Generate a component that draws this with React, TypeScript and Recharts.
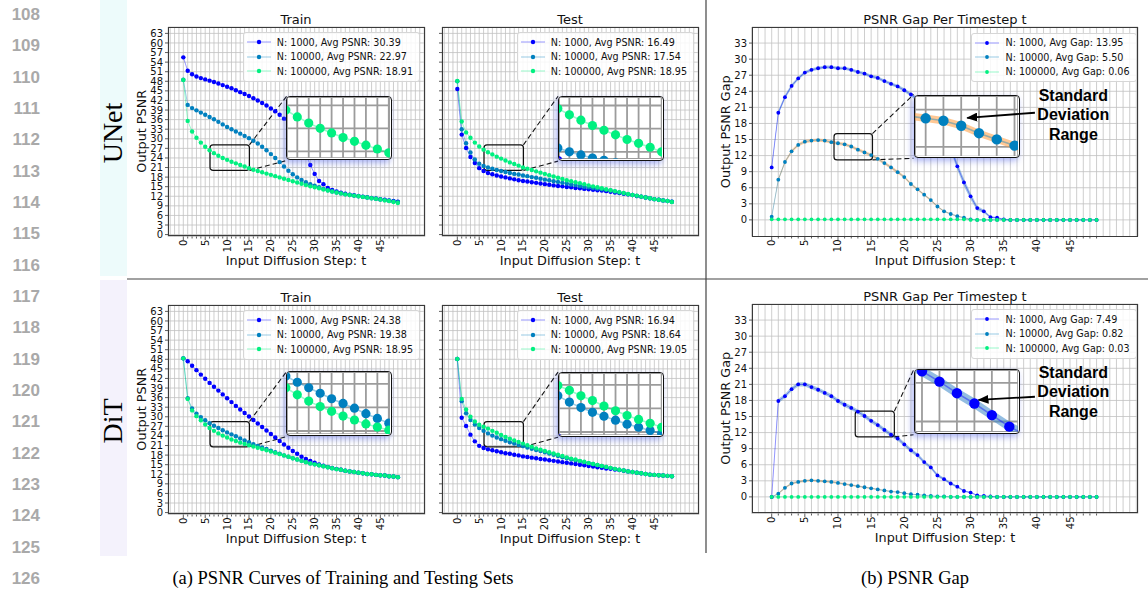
import React from "react";
import {
  Area,
  CartesianGrid,
  ComposedChart,
  Line,
  ReferenceArea,
  ReferenceLine,
  XAxis,
  YAxis,
} from "recharts";

const FONT = "'DejaVu Sans', sans-serif";
const SERIF = "'Liberation Serif', 'Times New Roman', serif";
const BOLD_SANS = "'Liberation Sans', Arial, sans-serif";

const BLUE = "#0000ff";
const MID = "#0080bf";
const GREEN = "#00f080";
const BAND_BLUE = "#3a86c8";
const BAND_ORANGE = "#ff9a3c";

// ---------- axes / ticks ----------
const steps = [
  0, 1, 2, 3, 4, 5, 6, 7, 8, 9, 10, 11, 12, 13, 14, 15, 16, 17, 18, 19, 20, 21, 22, 23, 24,
  25, 26, 27, 28, 29, 30, 31, 32, 33, 34, 35, 36, 37, 38, 39, 40, 41, 42, 43, 44, 45, 46, 47, 48, 49,
];
const gridSteps = [
  -3, -2, -1, 0, 1, 2, 3, 4, 5, 6, 7, 8, 9, 10, 11, 12, 13, 14, 15, 16, 17, 18, 19, 20, 21, 22,
  23, 24, 25, 26, 27, 28, 29, 30, 31, 32, 33, 34, 35, 36, 37, 38, 39, 40, 41, 42, 43, 44, 45, 46,
  47, 48, 49, 50, 51, 52, 53, 54, 55,
];
const stepLabels = [0, 5, 10, 15, 20, 25, 30, 35, 40, 45];
const psnrTicks = [0, 3, 6, 9, 12, 15, 18, 21, 24, 27, 30, 33, 36, 39, 42, 45, 48, 51, 54, 57, 60, 63];
const gapTicks = [0, 3, 6, 9, 12, 15, 18, 21, 24, 27, 30, 33];
const sampleSizes = ["N: 1000", "N: 10000", "N: 100000"];
const lineNumbers = [108, 109, 110, 111, 112, 113, 114, 115, 116, 117, 118, 119, 120, 121, 122, 123, 124, 125, 126];
const annotationLines = ["Standard", "Deviation", "Range"];

// ---------- UNet ----------
const unetTrainAvg = [30.39, 22.97, 18.91];
const unetTrain1k = [
  55.5, 51.3, 50.2, 49.5, 49.0, 48.6, 48.2, 47.8, 47.3, 46.8, 46.3, 45.8, 45.2, 44.6, 44.0, 43.4, 42.7,
  42.0, 41.2, 40.4, 39.5, 38.6, 37.5, 36.3, 34.8, 33.0, 30.8, 28.2, 25.0, 21.8, 19.0, 16.8, 15.8, 14.6,
  14.0, 13.5, 13.1, 12.8, 12.5, 12.3, 12.1, 11.9, 11.7, 11.5, 11.3, 11.1, 10.9, 10.7, 10.5, 10.3,
];
const unetTrain10k = [
  48.5, 40.6, 39.6, 38.9, 38.2, 37.5, 36.8, 36.1, 35.3, 34.5, 33.7, 33.0, 32.3, 31.6, 30.9, 30.2, 29.4,
  28.5, 27.5, 26.4, 25.2, 24.0, 22.7, 21.3, 20.0, 18.9, 17.9, 17.1, 16.4, 15.8, 15.3, 14.8, 14.3, 13.9,
  13.5, 13.2, 12.9, 12.6, 12.4, 12.2, 12.0, 11.8, 11.6, 11.4, 11.2, 11.0, 10.8, 10.6, 10.4, 10.2,
];
const unetTrain100k = [
  48.4, 35.6, 32.3, 30.3, 28.8, 27.5, 26.4, 25.5, 24.7, 24.0, 23.4, 22.8, 22.3, 21.8, 21.3, 20.8, 20.3,
  19.9, 19.5, 19.1, 18.7, 18.3, 17.9, 17.5, 17.1, 16.7, 16.3, 15.9, 15.5, 15.1, 14.8, 14.5, 14.1, 13.8,
  13.5, 13.2, 12.9, 12.6, 12.4, 12.2, 12.0, 11.8, 11.6, 11.4, 11.2, 11.0, 10.7, 10.5, 10.2, 9.9,
];

const unetTestAvg = [16.49, 17.54, 18.95];
const unetTest1k = [
  45.6, 31.3, 27.1, 24.3, 22.4, 20.8, 19.9, 19.3, 18.9, 18.5, 18.2, 17.9, 17.6, 17.3, 17.0, 16.8, 16.6,
  16.4, 16.2, 16.0, 15.8, 15.6, 15.4, 15.2, 15.1, 14.9, 14.8, 14.6, 14.5, 14.3, 14.2, 14.0, 13.9, 13.8,
  13.6, 13.4, 13.2, 13.0, 12.8, 12.6, 12.4, 12.1, 11.9, 11.6, 11.4, 11.1, 10.9, 10.7, 10.5, 10.3,
];
const unetTest10k = [
  48.0, 33.0, 28.6, 25.7, 23.5, 22.2, 21.5, 21.0, 20.6, 20.2, 19.9, 19.6, 19.3, 19.0, 18.8, 18.5, 18.3,
  18.0, 17.8, 17.5, 17.2, 17.0, 16.7, 16.5, 16.2, 16.0, 15.7, 15.5, 15.2, 15.0, 14.8, 14.6, 14.4, 14.2,
  14.0, 13.8, 13.5, 13.2, 12.9, 12.6, 12.4, 12.1, 11.9, 11.6, 11.4, 11.1, 10.9, 10.7, 10.5, 10.3,
];
const unetTest100k = [
  48.1, 35.4, 32.0, 30.3, 28.8, 27.6, 26.6, 25.8, 25.1, 24.4, 23.8, 23.2, 22.6, 22.1, 21.6, 21.0, 20.6,
  20.2, 19.8, 19.4, 19.0, 18.6, 18.2, 17.8, 17.4, 17.0, 16.7, 16.4, 16.1, 15.8, 15.4, 15.1, 14.8, 14.5,
  14.2, 13.9, 13.6, 13.3, 13.0, 12.7, 12.4, 12.2, 11.9, 11.6, 11.4, 11.1, 10.9, 10.7, 10.5, 10.2,
];

const unetGapAvg = [13.95, 5.5, 0.06];
const unetGap1k = [
  9.8, 20.0, 22.9, 25.0, 26.4, 27.5, 28.0, 28.3, 28.5, 28.5, 28.3, 28.3, 28.0, 27.6, 27.3, 26.8, 26.5,
  25.9, 25.4, 24.9, 24.2, 23.4, 22.5, 21.5, 20.2, 18.5, 16.3, 13.5, 10.0, 7.0, 4.4, 2.2, 1.6, 0.5, 0.4,
  0.1, 0, 0, 0, 0, 0, 0, 0, 0, 0, 0, 0, 0, 0, 0,
];
const unetGap1kStd = [
  0.3, 0.4, 0.4, 0.35, 0.3, 0.3, 0.3, 0.3, 0.3, 0.3, 0.3, 0.3, 0.3, 0.3, 0.3, 0.3, 0.3, 0.3, 0.3, 0.3,
  0.35, 0.35, 0.4, 0.4, 0.45, 0.5, 0.55, 0.6, 0.65, 0.7, 0.6, 0.45, 0.3, 0.2, 0.15, 0.1, 0, 0, 0, 0,
  0, 0, 0, 0, 0, 0, 0, 0, 0, 0,
];
const unetGap10k = [
  0.6, 7.5, 10.8, 12.8, 14.0, 14.6, 14.8, 14.9, 14.8, 14.5, 14.3, 14.1, 13.7, 13.1, 12.6, 12.1, 11.4,
  10.6, 9.8, 8.9, 8.0, 6.7, 5.7, 4.7, 3.7, 2.5, 1.6, 1.1, 0.7, 0.4, 0.1, 0, 0, 0, 0, 0, 0, 0, 0, 0, 0,
  0, 0, 0, 0, 0, 0, 0, 0, 0,
];
const unetGap10kStd = [
  0.1, 0.3, 0.3, 0.3, 0.3, 0.3, 0.3, 0.3, 0.3, 0.3, 0.3, 0.3, 0.3, 0.3, 0.3, 0.3, 0.3, 0.3, 0.3, 0.3,
  0.25, 0.25, 0.2, 0.2, 0.2, 0.15, 0.15, 0.1, 0.1, 0.1, 0.05, 0, 0, 0, 0, 0, 0, 0, 0, 0, 0, 0, 0, 0,
  0, 0, 0, 0, 0, 0,
];
const unetGap100k = [
  0.1, 0.1, 0.1, 0.1, 0.1, 0.1, 0.1, 0.1, 0.1, 0.1, 0.1, 0.1, 0.1, 0.1, 0.1, 0.1, 0.1, 0.1, 0.1, 0.1,
  0.1, 0.1, 0.1, 0.1, 0.1, 0.1, 0.1, 0.1, 0.1, 0.1, 0, 0, 0, 0, 0, 0, 0, 0, 0, 0, 0, 0, 0, 0, 0, 0,
  0, 0, 0, 0,
];

// ---------- DiT ----------
const ditTrainAvg = [24.38, 19.38, 18.95];
const ditTrain1k = [
  48.3, 47.4, 46.0, 44.6, 43.2, 41.9, 40.6, 39.4, 38.2, 37.0, 35.8, 34.6, 33.4, 32.3, 31.2, 30.1, 29.0,
  27.9, 26.8, 25.7, 24.6, 23.5, 22.4, 21.3, 20.3, 19.3, 18.4, 17.5, 16.8, 16.2, 15.6, 15.1, 14.7, 14.3,
  14.0, 13.7, 13.4, 13.1, 12.9, 12.7, 12.5, 12.3, 12.1, 12.0, 11.8, 11.7, 11.6, 11.4, 11.3, 11.1,
];
const ditTrain10k = [
  48.3, 35.8, 32.6, 31.0, 29.9, 28.9, 28.0, 27.2, 26.5, 25.8, 25.1, 24.5, 23.9, 23.2, 22.6, 22.0, 21.4,
  20.9, 20.4, 19.9, 19.4, 18.9, 18.4, 17.9, 17.5, 17.0, 16.6, 16.2, 15.8, 15.4, 15.1, 14.8, 14.5, 14.2,
  13.9, 13.6, 13.4, 13.1, 12.9, 12.7, 12.5, 12.3, 12.1, 12.0, 11.8, 11.7, 11.6, 11.4, 11.3, 11.1,
];
const ditTrain100k = [
  48.3, 35.6, 32.0, 30.2, 28.9, 27.6, 26.5, 25.6, 24.8, 24.1, 23.5, 22.9, 22.4, 21.9, 21.5, 21.1, 20.7,
  20.3, 19.9, 19.5, 19.1, 18.7, 18.3, 17.9, 17.5, 17.0, 16.6, 16.2, 15.8, 15.4, 15.1, 14.8, 14.5, 14.2,
  13.9, 13.6, 13.4, 13.1, 12.9, 12.7, 12.5, 12.3, 12.1, 12.0, 11.8, 11.7, 11.6, 11.4, 11.3, 11.1,
];

const ditTestAvg = [16.94, 18.64, 19.05];
const ditTest1k = [
  48.1, 29.7, 27.1, 24.4, 22.3, 20.9, 20.2, 19.8, 19.5, 19.2, 18.9, 18.6, 18.4, 18.1, 17.9, 17.6, 17.4,
  17.2, 17.0, 16.8, 16.6, 16.4, 16.2, 16.0, 15.8, 15.6, 15.4, 15.2, 15.0, 14.8, 14.6, 14.4, 14.2, 14.0,
  13.8, 13.7, 13.5, 13.3, 13.1, 12.9, 12.7, 12.5, 12.3, 12.1, 11.9, 11.8, 11.7, 11.6, 11.5, 11.4,
];
const ditTest10k = [
  48.1, 34.9, 31.1, 29.0, 27.6, 26.5, 25.6, 24.8, 24.1, 23.5, 23.0, 22.5, 22.0, 21.6, 21.2, 20.8, 20.4,
  20.0, 19.6, 19.3, 18.9, 18.5, 18.1, 17.7, 17.3, 17.0, 16.7, 16.4, 16.1, 15.8, 15.5, 15.2, 14.9, 14.6,
  14.3, 14.0, 13.7, 13.4, 13.2, 12.9, 12.7, 12.5, 12.3, 12.1, 11.9, 11.8, 11.7, 11.6, 11.5, 11.4,
];
const ditTest100k = [
  48.1, 35.6, 32.3, 30.0, 28.5, 27.5, 26.9, 26.3, 25.6, 25.0, 24.3, 23.7, 23.1, 22.6, 22.1, 21.6, 21.1,
  20.6, 20.1, 19.7, 19.3, 18.9, 18.5, 18.1, 17.7, 17.3, 16.9, 16.6, 16.2, 15.9, 15.5, 15.2, 14.9, 14.6,
  14.3, 14.0, 13.7, 13.4, 13.2, 12.9, 12.7, 12.5, 12.3, 12.1, 11.9, 11.8, 11.7, 11.6, 11.5, 11.4,
];

const ditGapAvg = [7.49, 0.82, 0.03];
const ditGap1k = [
  0, 17.9, 18.8, 20.1, 21.0, 21.0, 20.5, 20.0, 19.4, 18.8, 17.9, 17.2, 16.6, 15.9, 15.1, 14.2, 13.4,
  12.5, 11.6, 10.9, 9.8, 8.7, 7.8, 6.5, 5.5, 4.0, 3.3, 2.5, 1.9, 1.1, 0.8, 0.3, 0.2, 0.1, 0, 0, 0, 0,
  0, 0, 0, 0, 0, 0, 0, 0, 0, 0, 0, 0,
];
const ditGap1kStd = [
  0, 0.4, 0.4, 0.4, 0.4, 0.4, 0.4, 0.4, 0.4, 0.4, 0.4, 0.4, 0.4, 0.4, 0.4, 0.4, 0.4, 0.4, 0.4, 0.4,
  0.4, 0.4, 0.35, 0.35, 0.3, 0.3, 0.25, 0.25, 0.2, 0.15, 0.1, 0.05, 0, 0, 0, 0, 0, 0, 0, 0, 0, 0, 0,
  0, 0, 0, 0, 0, 0, 0,
];
const ditGap10k = [
  0, 0.6, 1.7, 2.5, 2.8, 3.0, 3.1, 3.0, 2.9, 2.8, 2.6, 2.4, 2.2, 2.0, 1.8, 1.6, 1.4, 1.2, 1.0, 0.9,
  0.7, 0.5, 0.4, 0.3, 0.2, 0.1, 0.1, 0, 0, 0, 0, 0, 0, 0, 0, 0, 0, 0, 0, 0, 0, 0, 0, 0, 0, 0, 0, 0,
  0, 0,
];
const ditGap10kStd = [
  0, 0.15, 0.2, 0.2, 0.2, 0.2, 0.2, 0.2, 0.2, 0.2, 0.2, 0.2, 0.15, 0.15, 0.15, 0.15, 0.1, 0.1, 0.1,
  0.1, 0.1, 0.05, 0.05, 0.05, 0, 0, 0, 0, 0, 0, 0, 0, 0, 0, 0, 0, 0, 0, 0, 0, 0, 0, 0, 0, 0, 0, 0, 0,
  0, 0,
];
const ditGap100k = [
  0, 0, 0, 0, 0, 0, 0, 0, 0, 0, 0, 0, 0, 0, 0, 0, 0, 0, 0, 0, 0, 0, 0, 0, 0, 0, 0, 0, 0, 0, 0, 0, 0,
  0, 0, 0, 0, 0, 0, 0, 0, 0, 0, 0, 0, 0, 0, 0, 0, 0,
];

// ---------- layout ----------
type Frame = { left: number; top: number; width: number; height: number; x: [number, number]; y: [number, number] };
type Box = { x1: number; x2: number; y1: number; y2: number };

const psnrX: [number, number] = [-3.5, 55.2];
const psnrY: [number, number] = [-0.6, 65];
const gapX: [number, number] = [-2.97, 55.25];
const gapY: [number, number] = [-3.1, 36];

const frames: Record<string, Frame> = {
  unetTrain: { left: 167.5, top: 26.5, width: 257, height: 209.5, x: psnrX, y: psnrY },
  unetTest: { left: 441.5, top: 26.5, width: 257, height: 209.5, x: psnrX, y: psnrY },
  unetGap: { left: 752, top: 27, width: 386, height: 209.5, x: gapX, y: gapY },
  ditTrain: { left: 167.5, top: 304.5, width: 257, height: 209.5, x: psnrX, y: psnrY },
  ditTest: { left: 441.5, top: 304.5, width: 257, height: 209.5, x: psnrX, y: psnrY },
  ditGap: { left: 752, top: 303.5, width: 386, height: 209.5, x: gapX, y: gapY },
};

const toPx = (f: Frame, t: number, v: number) => ({
  x: f.left + ((t - f.x[0]) / (f.x[1] - f.x[0])) * f.width,
  y: f.top + ((f.y[1] - v) / (f.y[1] - f.y[0])) * f.height,
});

const AXIS_W = 36;
const AXIS_H = 24;
const PAD = 4;

type Series = { key: string; color: string; values: number[]; std?: number[]; band?: string };

type PanelDef = {
  id: string;
  frame: Frame;
  title: string;
  yLabel?: string;
  yTicks: number[];
  yTickLabels: boolean;
  series: Series[];
  legend: string[];
  rect: Box;
  box: Box;
  dotR: number;
  insetDotR: number;
  note?: { from: [number, number]; to: [number, number]; at: [number, number[]] };
};

const psnrSeries = (a: number[], b: number[], c: number[]): Series[] => [
  { key: "n1k", color: BLUE, values: a },
  { key: "n10k", color: MID, values: b },
  { key: "n100k", color: GREEN, values: c },
];

const legendLabels = (avgs: number[], kind: string) =>
  sampleSizes.map((n, i) => `${n}, Avg ${kind}: ${avgs[i].toFixed(2)}`);

const panels: PanelDef[] = [
  {
    id: "unetTrain",
    frame: frames.unetTrain,
    title: "Train",
    yLabel: "Output PSNR",
    yTicks: psnrTicks,
    yTickLabels: true,
    series: psnrSeries(unetTrain1k, unetTrain10k, unetTrain100k),
    legend: legendLabels(unetTrainAvg, "PSNR"),
    rect: { x1: 6.1, x2: 15.1, y1: 20.1, y2: 28.1 },
    box: { x1: 23.6, x2: 47.8, y1: 23.2, y2: 43.3 },
    dotR: 2.2,
    insetDotR: 4.6,
  },
  {
    id: "unetTest",
    frame: frames.unetTest,
    title: "Test",
    yTicks: psnrTicks,
    yTickLabels: false,
    series: psnrSeries(unetTest1k, unetTest10k, unetTest100k),
    legend: legendLabels(unetTestAvg, "PSNR"),
    rect: { x1: 6.1, x2: 15.1, y1: 20.1, y2: 28.1 },
    box: { x1: 23.0, x2: 47.4, y1: 23.0, y2: 43.3 },
    dotR: 2.2,
    insetDotR: 4.6,
  },
  {
    id: "unetGap",
    frame: frames.unetGap,
    title: "PSNR Gap Per Timestep t",
    yLabel: "Output PSNR Gap",
    yTicks: gapTicks,
    yTickLabels: true,
    series: [
      { key: "n1k", color: BLUE, values: unetGap1k, std: unetGap1kStd, band: BAND_BLUE },
      { key: "n10k", color: MID, values: unetGap10k, std: unetGap10kStd, band: BAND_ORANGE },
      { key: "n100k", color: GREEN, values: unetGap100k },
    ],
    legend: legendLabels(unetGapAvg, "Gap"),
    rect: { x1: 9.4, x2: 15.2, y1: 11.2, y2: 16.1 },
    box: { x1: 21.4, x2: 37.4, y1: 11.5, y2: 23.4 },
    dotR: 1.9,
    insetDotR: 5.2,
    note: { from: [39.7, 20.0], to: [29.5, 19.05], at: [45.5, [23.3, 19.7, 16.0]] },
  },
  {
    id: "ditTrain",
    frame: frames.ditTrain,
    title: "Train",
    yLabel: "Output PSNR",
    yTicks: psnrTicks,
    yTickLabels: true,
    series: psnrSeries(ditTrain1k, ditTrain10k, ditTrain100k),
    legend: legendLabels(ditTrainAvg, "PSNR"),
    rect: { x1: 6.1, x2: 15.1, y1: 20.6, y2: 28.5 },
    box: { x1: 23.6, x2: 47.8, y1: 23.8, y2: 44.2 },
    dotR: 2.2,
    insetDotR: 4.6,
  },
  {
    id: "ditTest",
    frame: frames.ditTest,
    title: "Test",
    yTicks: psnrTicks,
    yTickLabels: false,
    series: psnrSeries(ditTest1k, ditTest10k, ditTest100k),
    legend: legendLabels(ditTestAvg, "PSNR"),
    rect: { x1: 6.1, x2: 15.1, y1: 20.6, y2: 28.5 },
    box: { x1: 23.0, x2: 47.4, y1: 23.6, y2: 44.0 },
    dotR: 2.2,
    insetDotR: 4.6,
  },
  {
    id: "ditGap",
    frame: frames.ditGap,
    title: "PSNR Gap Per Timestep t",
    yLabel: "Output PSNR Gap",
    yTicks: gapTicks,
    yTickLabels: true,
    series: [
      { key: "n1k", color: BLUE, values: ditGap1k, std: ditGap1kStd, band: BAND_BLUE },
      { key: "n10k", color: MID, values: ditGap10k, std: ditGap10kStd, band: BAND_ORANGE },
      { key: "n100k", color: GREEN, values: ditGap100k },
    ],
    legend: legendLabels(ditGapAvg, "Gap"),
    rect: { x1: 12.6, x2: 18.5, y1: 11.2, y2: 16.0 },
    box: { x1: 21.4, x2: 37.4, y1: 11.6, y2: 23.7 },
    dotR: 1.9,
    insetDotR: 5.2,
    note: { from: [39.7, 18.6], to: [31.2, 18.0], at: [45.5, [23.2, 19.5, 15.9]] },
  },
];

function StepTick(props: any) {
  const { x, y, payload } = props;
  const v = payload.value;
  if (!steps.includes(v)) return null;
  const major = stepLabels.includes(v);
  const len = major ? 3.5 : 2;
  return (
    <g>
      <line x1={x} y1={y} x2={x} y2={y + len} stroke="#333" strokeWidth={0.8} />
      {major && (
        <text
          transform={`translate(${x + 3.5},${y + 3}) rotate(-90)`}
          textAnchor="end"
          fontSize={10}
          fontFamily={FONT}
          fill="#111"
        >
          {v}
        </text>
      )}
    </g>
  );
}

function buildRows(series: Series[]) {
  return steps.map((t, i) => {
    const row: any = { t };
    series.forEach((s) => {
      row[s.key] = s.values[i];
      if (s.std) row[s.key + "Band"] = [s.values[i] - s.std[i], s.values[i] + s.std[i]];
    });
    return row;
  });
}

function marks(series: Series[], dotR: number, width: number, bandOpacity: number) {
  const bands = series
    .filter((s) => s.std)
    .map((s) => (
      <Area
        key={s.key + "Band"}
        dataKey={s.key + "Band"}
        type="linear"
        stroke="none"
        fill={s.band}
        fillOpacity={bandOpacity}
        dot={false}
        activeDot={false}
        isAnimationActive={false}
      />
    ));
  const lines = series.map((s) => (
    <Line
      key={s.key}
      dataKey={s.key}
      type="linear"
      stroke={s.color}
      strokeOpacity={0.4}
      strokeWidth={width}
      dot={{ r: dotR, fill: s.color, stroke: "none", fillOpacity: 1 }}
      activeDot={false}
      isAnimationActive={false}
    />
  ));
  return [...bands, ...lines];
}

function Panel({ p }: { p: PanelDef }) {
  const f = p.frame;
  const rows = buildRows(p.series);
  const tl = toPx(f, p.box.x1, p.box.y2);
  const br = toPx(f, p.box.x2, p.box.y1);
  const iw = br.x - tl.x;
  const ih = br.y - tl.y;
  return (
    <>
      <div style={{ position: "absolute", left: f.left - AXIS_W - PAD, top: f.top - PAD }}>
        <ComposedChart
          width={f.width + AXIS_W + 2 * PAD}
          height={f.height + AXIS_H + 2 * PAD}
          data={rows}
          margin={{ top: PAD, right: PAD, bottom: PAD, left: PAD }}
        >
          <CartesianGrid stroke="#c2c2c2" strokeWidth={0.8} />
          <XAxis
            dataKey="t"
            type="number"
            domain={f.x}
            ticks={gridSteps}
            interval={0}
            allowDataOverflow
            height={AXIS_H}
            axisLine={false}
            tickLine={false}
            tickSize={0}
            tickMargin={0}
            tick={<StepTick />}
          />
          <YAxis
            type="number"
            domain={f.y}
            ticks={p.yTicks}
            interval={0}
            allowDataOverflow
            width={AXIS_W}
            axisLine={false}
            tickSize={3}
            tickMargin={2}
            tickLine={{ stroke: "#333", strokeWidth: 0.8 }}
            tick={{ fontSize: 10, fill: "#111", fontFamily: FONT }}
            tickFormatter={(v: number) => (p.yTickLabels ? String(v) : "")}
          />
          {marks(p.series, p.dotR, 1, 0.45)}
          <ReferenceArea
            x1={p.rect.x1}
            x2={p.rect.x2}
            y1={p.rect.y1}
            y2={p.rect.y2}
            fill="none"
            fillOpacity={0}
            stroke="#111"
            strokeWidth={1.2}
            radius={3}
          />
          <ReferenceLine
            segment={[
              { x: p.rect.x2, y: p.rect.y2 },
              { x: p.box.x1, y: p.box.y2 },
            ]}
            stroke="#111"
            strokeWidth={1.1}
            strokeDasharray="5 3"
          />
          <ReferenceLine
            segment={[
              { x: p.rect.x2, y: p.rect.y1 },
              { x: p.box.x1, y: p.box.y1 },
            ]}
            stroke="#111"
            strokeWidth={1.1}
            strokeDasharray="5 3"
          />
        </ComposedChart>
      </div>
      <div
        style={{
          position: "absolute",
          left: f.left,
          top: f.top,
          width: f.width,
          height: f.height,
          border: "1px solid #3a3a3a",
          boxSizing: "border-box",
          pointerEvents: "none",
        }}
      />
      <div
        style={{
          position: "absolute",
          left: tl.x,
          top: tl.y,
          width: iw,
          height: ih,
          boxSizing: "border-box",
          border: "1.5px solid #111",
          borderRadius: 4,
          background: "#fff",
          overflow: "hidden",
          boxShadow: "-2px 3px 6px rgba(70, 90, 230, 0.45)",
        }}
      >
        <ComposedChart width={iw - 3} height={ih - 3} data={rows} margin={{ top: 0, right: 0, bottom: 0, left: 0 }}>
          <CartesianGrid stroke="#9c9c9c" strokeWidth={1.8} />
          <XAxis
            dataKey="t"
            type="number"
            hide
            domain={[p.rect.x1, p.rect.x2]}
            ticks={steps}
            interval={0}
            allowDataOverflow
          />
          <YAxis type="number" hide domain={[p.rect.y1, p.rect.y2]} ticks={p.yTicks} interval={0} allowDataOverflow />
          {marks(p.series, p.insetDotR, 1.6, 0.55)}
        </ComposedChart>
      </div>
      <div
        style={{
          position: "absolute",
          right: 1148 - (f.left + f.width) + (p.note ? 1.5 : 4.5),
          top: f.top + 5.5,
          background: "rgba(255,255,255,0.85)",
          border: "1px solid #d6d6d6",
          borderRadius: 3,
          padding: "2px 6px 2px 3px",
          fontFamily: FONT,
          fontSize: 9.6,
          color: "#111",
        }}
      >
        {p.legend.map((label, i) => (
          <div key={label} style={{ display: "flex", alignItems: "center", height: 14.5, whiteSpace: "nowrap" }}>
            <svg width={24} height={10} style={{ marginRight: 6 }}>
              <line x1={0} y1={5} x2={24} y2={5} stroke={p.series[i].color} strokeOpacity={0.4} strokeWidth={1} />
              <circle cx={12} cy={5} r={p.dotR} fill={p.series[i].color} />
            </svg>
            <span>{label}</span>
          </div>
        ))}
      </div>
    </>
  );
}

function Overlay() {
  return (
    <svg
      width={1148}
      height={592}
      style={{ position: "absolute", left: 0, top: 0, pointerEvents: "none" }}
    >
      <defs>
        <marker id="head" markerWidth={11} markerHeight={9} refX={10} refY={4.5} orient="auto" markerUnits="userSpaceOnUse">
          <path d="M0,0 L11,4.5 L0,9 z" fill="#000" />
        </marker>
      </defs>
      {lineNumbers.map((n, i) => (
        <text
          key={n}
          x={40}
          y={14 + i * 31.33 + 6}
          textAnchor="end"
          fontFamily={BOLD_SANS}
          fontWeight="bold"
          fontSize={17}
          fill="#a9a9a9"
        >
          {n}
        </text>
      ))}
      <text transform="translate(122,133) rotate(-90)" textAnchor="middle" fontFamily={SERIF} fontSize={28} fill="#000">
        UNet
      </text>
      <text transform="translate(122,421) rotate(-90)" textAnchor="middle" fontFamily={SERIF} fontSize={28} fill="#000">
        DiT
      </text>
      <line x1={127} y1={279} x2={1148} y2={279} stroke="#444" strokeWidth={1.2} />
      <line x1={706} y1={0} x2={706} y2={553} stroke="#444" strokeWidth={1.2} />
      {panels.map((p) => {
        const f = p.frame;
        const cx = f.left + f.width / 2;
        return (
          <g key={p.id}>
            <text x={cx} y={f.top - 3} textAnchor="middle" fontFamily={FONT} fontSize={13} fill="#111">
              {p.title}
            </text>
            <text x={cx} y={f.top + f.height + 28.5} textAnchor="middle" fontFamily={FONT} fontSize={12.8} fill="#111">
              Input Diffusion Step: t
            </text>
            {p.yLabel && (
              <text
                transform={`translate(${f.left - (p.note ? 22.5 : 21.5)},${f.top + f.height / 2}) rotate(-90)`}
                textAnchor="middle"
                fontFamily={FONT}
                fontSize={12.8}
                fill="#111"
              >
                {p.yLabel}
              </text>
            )}
            {p.note && (() => {
              const a = toPx(f, p.note.from[0], p.note.from[1]);
              const b = toPx(f, p.note.to[0], p.note.to[1]);
              return (
                <g>
                  <line x1={a.x} y1={a.y} x2={b.x} y2={b.y} stroke="#000" strokeWidth={1.8} markerEnd="url(#head)" />
                  {annotationLines.map((txt, i) => {
                    const c = toPx(f, p.note!.at[0], p.note!.at[1][i]);
                    return (
                      <text
                        key={txt}
                        x={c.x}
                        y={c.y + 5.5}
                        textAnchor="middle"
                        fontFamily={BOLD_SANS}
                        fontWeight="bold"
                        fontSize={16}
                        fill="#000"
                      >
                        {txt}
                      </text>
                    );
                  })}
                </g>
              );
            })()}
          </g>
        );
      })}
      <text x={343} y={584} textAnchor="middle" fontFamily={SERIF} fontSize={18.5} fill="#000">
        (a) PSNR Curves of Training and Testing Sets
      </text>
      <text x={915} y={584} textAnchor="middle" fontFamily={SERIF} fontSize={18.5} fill="#000">
        (b) PSNR Gap
      </text>
    </svg>
  );
}

export default function App() {
  return (
    <div
      style={{
        position: "absolute",
        left: 0,
        top: 0,
        width: 1148,
        height: 592,
        background: "#fff",
        overflow: "hidden",
      }}
    >
      <div style={{ position: "absolute", left: 100, top: 0, width: 27, height: 276, background: "#edfbfb" }} />
      <div style={{ position: "absolute", left: 100, top: 280, width: 27, height: 276, background: "#f4f2fc" }} />
      {panels.map((p) => (
        <Panel key={p.id} p={p} />
      ))}
      <Overlay />
    </div>
  );
}
